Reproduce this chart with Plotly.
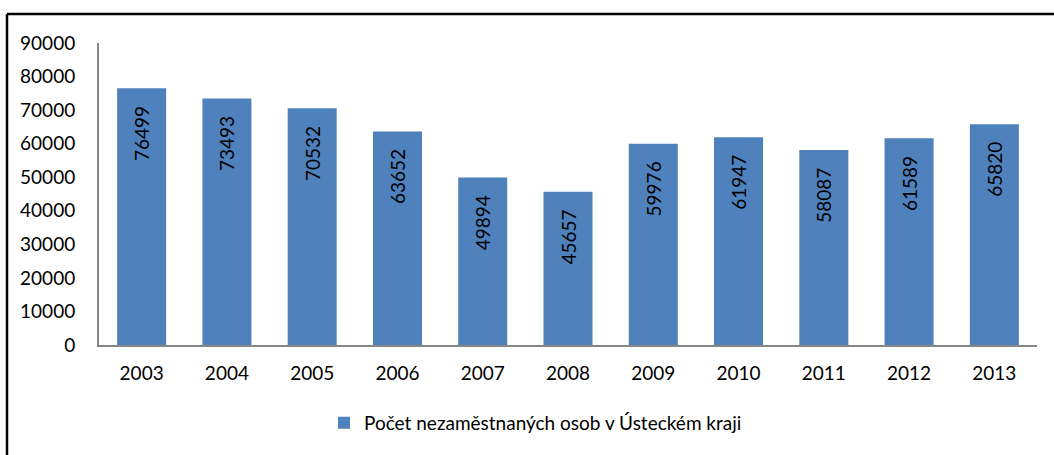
import plotly.graph_objects as go

years = ["2003", "2004", "2005", "2006", "2007", "2008", "2009", "2010", "2011", "2012", "2013"]
unemployed = [76499, 73493, 70532, 63652, 49894, 45657, 59976, 61947, 58087, 61589, 65820]
series_name = "Počet nezaměstnaných osob v Ústeckém kraji"
y_ticks = [0, 10000, 20000, 30000, 40000, 50000, 60000, 70000, 80000, 90000]

FONT = "Lato, Open Sans, sans-serif"
FS = 19

fig = go.Figure()
fig.add_trace(go.Bar(
    x=years,
    y=unemployed,
    name=series_name,
    marker=dict(color="#4F81BD", line=dict(width=0)),
    text=[str(v) + "\u00a0\u00a0\u00a0" for v in unemployed],
    textposition="inside",
    insidetextanchor="end",
    textangle=-90,
    textfont=dict(family=FONT, size=FS, color="black"),
    showlegend=True,
))

fig.update_layout(
    width=1054,
    height=455,
    margin=dict(l=99, r=17, t=43, b=110),
    paper_bgcolor="white",
    plot_bgcolor="white",
    font=dict(family=FONT, size=FS, color="black"),
    bargap=0.425,
    showlegend=True,
    legend=dict(
        orientation="h",
        x=0.2399, xanchor="left",
        y=-0.258, yanchor="middle",
        font=dict(family=FONT, size=FS, color="black"),
        itemwidth=30,
    ),
)

fig.update_xaxes(
    showline=True, linecolor="#868686", linewidth=2,
    showgrid=False, ticks="", ticklabelstandoff=10,
    tickfont=dict(family=FONT, size=FS, color="black"),
)
fig.update_yaxes(
    range=[0, 90000], tickvals=y_ticks, ticktext=[str(v) for v in y_ticks],
    showline=True, linecolor="#868686", linewidth=2,
    showgrid=False, zeroline=False, ticks="", ticklabelstandoff=18,
    tickfont=dict(family=FONT, size=FS, color="black"),
)

# outer chart frame (left and top edges visible)
fx = (7 - 99) / 938
fy = 1 + (43 - 14) / 302
fig.add_shape(type="line", xref="paper", yref="paper",
              x0=fx, x1=fx, y0=-0.5, y1=fy,
              line=dict(color="black", width=2.5))
fig.add_shape(type="line", xref="paper", yref="paper",
              x0=fx, x1=1.1, y0=fy, y1=fy,
              line=dict(color="black", width=2.5))

fig.write_html("out.html", config={"displayModeBar": False},
               post_script="document.body.style.margin='0';")
